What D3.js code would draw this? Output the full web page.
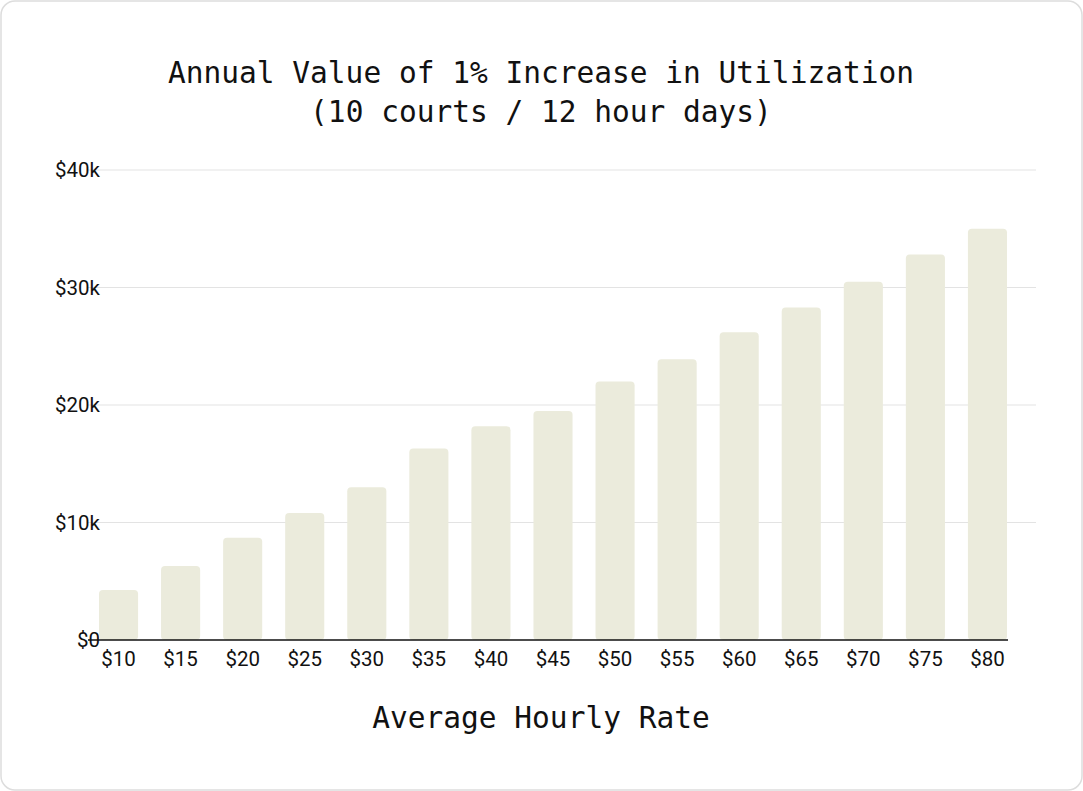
<!DOCTYPE html>
<html><head><meta charset="utf-8">
<script src="https://cdn.jsdelivr.net/npm/d3@7"></script>
<style>body{margin:0;background:#fff}</style></head>
<body><svg id="c" width="1083" height="791"></svg>
<script>
const categories=["$10","$15","$20","$25","$30","$35","$40","$45","$50","$55","$60","$65","$70","$75","$80"];
const values=[4.26,6.3,8.7,10.8,13.0,16.3,18.2,19.5,22.0,23.9,26.2,28.3,30.5,32.8,35.0];
const yTicks=[0,10,20,30,40];
const svg=d3.select("#c");
svg.append("rect").attr("x",1).attr("y",1).attr("width",1081).attr("height",789).attr("rx",14)
 .attr("fill","#fff").attr("stroke","#ddd").attr("stroke-width",1.5);
const mono="'DejaVu Sans Mono','Liberation Mono',monospace";
svg.append("text").attr("x",541).attr("y",83).attr("text-anchor","middle").attr("font-family",mono).attr("font-size",29.5).attr("fill","#111").text("Annual Value of 1% Increase in Utilization");
svg.append("text").attr("x",541).attr("y",122).attr("text-anchor","middle").attr("font-family",mono).attr("font-size",29.5).attr("fill","#111").text("(10 courts / 12 hour days)");
const x=d3.scaleBand().domain(categories).range([87.5,1018.5]).paddingInner(0.37).paddingOuter(0.185);
const y=d3.scaleLinear().domain([0,40]).range([640,170]);
const g=svg.append("g");
yTicks.forEach(t=>{
 if(t>0) g.append("line").attr("x1",88).attr("x2",1036).attr("y1",y(t)).attr("y2",y(t)).attr("stroke","#e3e3e3");
 g.append("text").attr("x",100).attr("y",y(t)).attr("dy","0.35em").attr("text-anchor","end")
  .attr("font-family","Roboto").attr("font-size",20.5).attr("fill","#111").text(t===0?"$0":"$"+t+"k");
});
g.selectAll("rect.b").data(values).join("rect").attr("class","b")
 .attr("x",(d,i)=>x(categories[i])).attr("width",x.bandwidth())
 .attr("y",d=>y(d)).attr("height",d=>y(0)-y(d)).attr("rx",4).attr("fill","#ebebdc");
g.append("line").attr("x1",88).attr("x2",1008).attr("y1",640).attr("y2",640).attr("stroke","#111").attr("stroke-width",1.5);
categories.forEach(c=>{
 g.append("text").attr("x",x(c)+x.bandwidth()/2).attr("y",666).attr("text-anchor","middle")
  .attr("font-family","Roboto").attr("font-size",20.5).attr("fill","#111").text(c);
});
svg.append("text").attr("x",541).attr("y",728).attr("text-anchor","middle").attr("font-family",mono).attr("font-size",29.5).attr("fill","#111").text("Average Hourly Rate");
</script></body></html>
